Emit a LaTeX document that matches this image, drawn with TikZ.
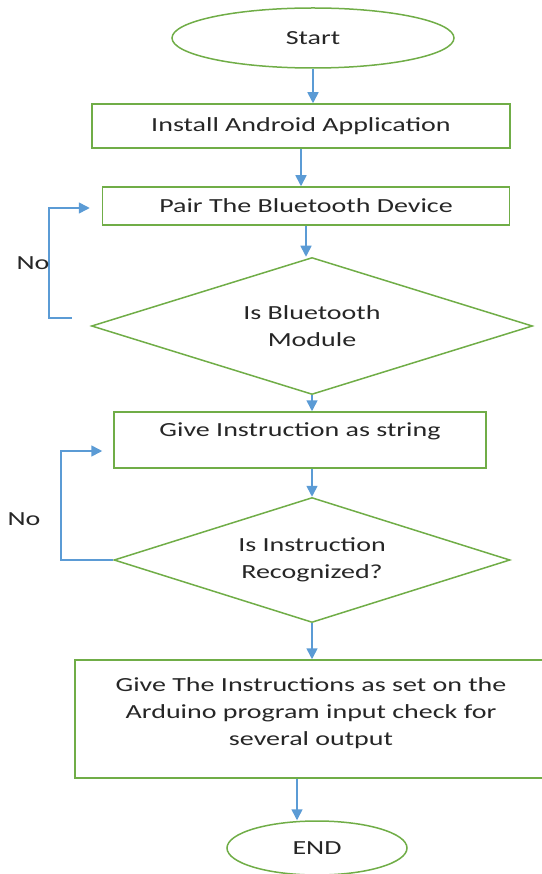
\documentclass[tikz,border=0pt]{standalone}
\usepackage{fontspec}
\setmainfont[FakeStretch=1.4]{Carlito}
\usetikzlibrary{shapes,arrows.meta,positioning}
\definecolor{boxgreen}{HTML}{70AD47}
\definecolor{flowblue}{HTML}{5B9BD5}

\begin{document}
\begin{tikzpicture}[x=1pt,y=-1pt,
    every node/.style={font=\fontsize{20}{27}\selectfont,text=black!85},
    term/.style={draw=boxgreen,line width=1.5pt,ellipse,inner sep=0pt},
    proc/.style={draw=boxgreen,line width=1.5pt,rectangle,inner sep=0pt,align=center},
    test/.style={draw=boxgreen,line width=1.5pt,diamond,aspect=3.2,inner sep=0pt,align=center},
    flow/.style={draw=flowblue,line width=1.6pt,-{Triangle[length=11pt,width=11pt]}}]
    \useasboundingbox (0,0) rectangle (541,874);

    % steps of the flow
    \node[term,minimum width=282,minimum height=60] (start) at (313,38) {Start};
    \node[proc,minimum width=418,minimum height=44] (install) at (301,126) {Install Android Application};
    \node[proc,minimum width=407,minimum height=38] (pair) at (306,206) {Pair The Bluetooth Device};
    \node[test,minimum width=441,minimum height=137] (bt) at (312,326) {Is Bluetooth\\Module};
    \node[proc,minimum width=372,minimum height=56,text depth=21pt] (give) at (300,440) {Give Instruction as string};
    \node[test,minimum width=396,minimum height=125] (rec) at (312,560) {Is Instruction\\Recognized?};
    \node[proc,minimum width=472,minimum height=118,text depth=14pt] (final) at (311,719)
        {Give The Instructions as set on the\\Arduino program input check for\\several output};
    \node[term,minimum width=180,minimum height=54] (end) at (317,848) {END};

    % straight arrows down
    \foreach \from/\to in {start/install,install/pair,pair/bt,bt/give,rec/final}
    {
        \draw[flow] (\from.south) -- (\from.south |- \to.north);
    }
    \draw[flow] (rec.north |- give.south) -- (rec.north);
    \draw[flow] ([xshift=-14pt]final.south) -- ([xshift=-14pt]final.south |- end.north);

    % the two "No" loops
    \coordinate (btloop) at (49,318);
    \draw[flow] ([xshift=-19pt,yshift=8pt]bt.west) -- (btloop) |- ([xshift=-12pt,yshift=-2pt]pair.west);
    \node (no1) at (33,263) {No};

    \coordinate (recloop) at (61,560);
    \draw[flow] (rec.west) -- (recloop) |- ([xshift=-11pt,yshift=-11pt]give.west);
    \node (no2) at (24,519) {No};
\end{tikzpicture}
\end{document}
